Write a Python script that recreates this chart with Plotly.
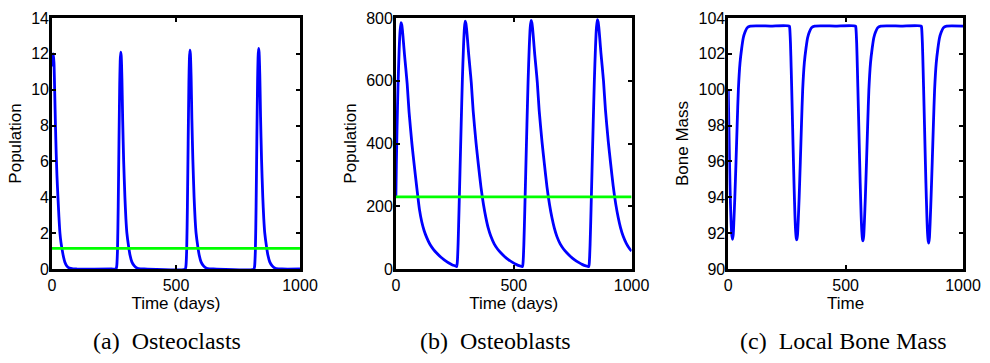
import plotly.graph_objects as go

# ---------------- data ----------------
time_range = [0, 1000]

# Osteoclasts
t_oc = [0, 2, 5, 8, 11, 14, 17, 20, 24, 28, 32, 36, 40, 46, 52, 60, 70, 85, 100,
        240, 258, 261, 264, 267, 270, 273, 275, 277, 279, 282, 285, 289, 294, 298, 302, 309, 315, 322, 332, 342, 357, 372,
        537, 540, 543, 546, 549, 552, 554, 556, 558, 561, 564, 568, 573, 577, 581, 588, 594, 601, 611, 621, 636, 651,
        814, 817, 820, 823, 826, 829, 831, 833, 835, 838, 841, 845, 850, 854, 858, 865, 871, 878, 888, 898, 913, 928, 1000]
oc = [11.3, 11.9, 12.0, 11.5, 9.8, 8.0, 6.4, 5.2, 4.0, 2.9, 2.0, 1.5, 1.15, 0.7, 0.38, 0.16, 0.05, 0.01, 0,
      0, 0, 0.15, 1.0, 3.5, 7.0, 10.3, 11.6, 12.1, 11.9, 10.6, 8.3, 6.0, 4.0, 2.8, 2.0, 1.25, 0.75, 0.4, 0.17, 0.06, 0.01, 0,
      0, 0.15, 1.0, 3.5, 7.0, 10.4, 11.7, 12.2, 12.0, 10.7, 8.4, 6.1, 4.0, 2.8, 2.0, 1.25, 0.75, 0.4, 0.17, 0.06, 0.01, 0,
      0, 0.15, 1.0, 3.5, 7.1, 10.5, 11.8, 12.3, 12.1, 10.8, 8.5, 6.1, 4.0, 2.8, 2.0, 1.25, 0.75, 0.4, 0.17, 0.06, 0.01, 0, 0]
oc_equilibrium = 1.15

# Osteoblasts
t_ob = [0, 2, 5, 9, 14, 18, 22, 25, 28, 32, 37, 42, 48, 56, 68, 78, 89, 100, 110, 120, 131, 145, 160, 174, 190, 205, 223, 240, 252,
        258, 261, 264, 268, 272, 277, 282, 287, 291,
        294, 297, 300, 304, 309, 314, 320, 328, 340, 350, 361, 372, 382, 392, 403, 417, 432, 446, 462, 477, 495, 512, 526,
        537, 540, 543, 547, 551, 556, 561, 566, 570,
        574, 577, 580, 584, 589, 594, 600, 608, 620, 630, 641, 652, 662, 672, 683, 697, 712, 726, 742, 757, 775, 792, 806,
        818, 821, 824, 828, 832, 837, 842, 847, 851,
        855, 858, 861, 865, 870, 875, 881, 889, 901, 911, 922, 933, 943, 953, 964, 978, 993, 1000]
ob = [230, 330, 450, 580, 700, 760, 785, 778, 760, 725, 680, 640, 590, 500, 400, 330, 258, 190, 150, 122, 100, 78, 62, 50, 38, 29, 20, 13, 10,
      8, 25, 80, 190, 310, 460, 600, 710, 770,
      790, 783, 765, 730, 683, 643, 593, 503, 403, 333, 261, 204, 163, 130, 104, 80, 63, 51, 39, 30, 21, 14, 10,
      8, 25, 80, 190, 310, 460, 600, 710, 770,
      792, 785, 767, 732, 685, 645, 595, 505, 405, 335, 262, 205, 164, 131, 104, 80, 63, 51, 39, 30, 21, 14, 10,
      8, 25, 80, 190, 310, 460, 600, 710, 770,
      795, 788, 770, 735, 688, 648, 598, 508, 407, 337, 264, 206, 165, 132, 105, 81, 63, 57]
ob_equilibrium = 230

# Local bone mass
t_bm = [0, 3, 6, 9, 12, 15, 18, 21, 24, 28, 33, 38, 43, 50, 57, 64, 71, 80, 94, 180,
        260, 262, 265, 268, 272, 276, 280, 284, 287, 290, 292, 295, 298, 302, 307, 312, 317, 324, 331, 338, 345, 354, 368, 455,
        542, 544, 547, 550, 554, 558, 562, 566, 569, 572, 574, 577, 580, 584, 589, 594, 599, 606, 613, 620, 627, 636, 650, 735,
        822, 824, 827, 830, 834, 838, 842, 846, 849, 852, 854, 857, 860, 864, 869, 874, 879, 886, 893, 900, 907, 916, 930, 1000]
bm = [100.0, 97.7, 95.5, 93.8, 92.6, 91.9, 91.66, 91.9, 92.7, 94.0, 96.0, 98.1, 100.0, 101.5, 102.3, 102.9, 103.2, 103.45, 103.55, 103.55,
      103.55, 103.4, 102.6, 101.2, 99.1, 96.9, 94.8, 93.0, 92.1, 91.7, 91.62, 91.9, 92.7, 94.0, 96.0, 98.1, 100.0, 101.5, 102.3, 102.9, 103.2, 103.45, 103.55, 103.55,
      103.55, 103.4, 102.6, 101.2, 99.1, 96.9, 94.8, 93.0, 92.1, 91.65, 91.57, 91.85, 92.65, 94.0, 96.0, 98.1, 100.0, 101.5, 102.3, 102.9, 103.2, 103.45, 103.55, 103.55,
      103.55, 103.4, 102.6, 101.2, 99.1, 96.9, 94.8, 93.0, 92.0, 91.55, 91.45, 91.75, 92.6, 94.0, 96.0, 98.1, 100.0, 101.5, 102.3, 102.9, 103.2, 103.45, 103.55, 103.55]

x_ticks = [0, 500, 1000]
y_ticks_a = [0, 2, 4, 6, 8, 10, 12, 14]
y_ticks_b = [0, 200, 400, 600, 800]
y_ticks_c = [90, 92, 94, 96, 98, 100, 102, 104]

captions = ["(a)\u00a0\u00a0Osteoclasts", "(b)\u00a0\u00a0Osteoblasts", "(c)\u00a0\u00a0Local Bone Mass"]
x_titles = ["Time (days)", "Time (days)", "Time"]
y_titles = ["Population", "Population", "Bone Mass"]

# ---------------- figure ----------------
W, H = 990, 363
BLUE = "#0000FF"
GREEN = "#00FF00"
SANS = "Liberation Sans, Arial, Helvetica, sans-serif"
SERIF = "Liberation Serif, Times New Roman, serif"

fig = go.Figure()
line_blue = dict(color=BLUE, width=2.8, shape="spline", smoothing=0.6)
line_green = dict(color=GREEN, width=2.6)

fig.add_trace(go.Scatter(x=t_oc, y=oc, mode="lines", line=line_blue, xaxis="x", yaxis="y", showlegend=False))
fig.add_trace(go.Scatter(x=time_range, y=[oc_equilibrium] * 2, mode="lines", line=line_green, xaxis="x", yaxis="y", showlegend=False))
fig.add_trace(go.Scatter(x=t_ob, y=ob, mode="lines", line=line_blue, xaxis="x2", yaxis="y2", showlegend=False))
fig.add_trace(go.Scatter(x=time_range, y=[ob_equilibrium] * 2, mode="lines", line=line_green, xaxis="x2", yaxis="y2", showlegend=False))
fig.add_trace(go.Scatter(x=t_bm, y=bm, mode="lines", line=line_blue, xaxis="x3", yaxis="y3", showlegend=False))

# plot-area pixel geometry (margins hold all tick labels and titles)
ML, MR, MT, MB = 52, 24, 9.5, 94
inner_w = W - ML - MR
panel_px = [[52, 300.8], [397, 633.5], [730.5, 966]]
xdoms = [[(a - ML) / inner_w, (b - ML) / inner_w] for a, b in panel_px]

common = dict(showline=True, linecolor="black", linewidth=2.6, mirror="allticks",
              ticks="inside", ticklen=4, tickwidth=1.5, tickcolor="black",
              showgrid=False, zeroline=False,
              tickfont=dict(family=SANS, size=16, color="black"))

yranges = [[0, 14], [0, 800], [90, 104]]
yticks = [y_ticks_a, y_ticks_b, y_ticks_c]

for i in range(3):
    sx = "" if i == 0 else str(i + 1)
    fig.update_layout(**{
        f"xaxis{sx}": dict(common, domain=xdoms[i], range=time_range, tickvals=x_ticks,
                           anchor=f"y{sx}",
                           title=dict(text=x_titles[i], font=dict(family=SANS, size=17, color="black"), standoff=2)),
        f"yaxis{sx}": dict(common, domain=[0, 1], range=yranges[i], tickvals=yticks[i],
                           anchor=f"x{sx}", ticklabelstandoff=-3,
                           title=dict(text=y_titles[i], font=dict(family=SANS, size=17, color="black"), standoff=6)),
    })

cap_x = [167, 497, 846]
for i in range(3):
    fig.add_annotation(text=captions[i], xref="paper", yref="paper",
                       x=(cap_x[i] - ML) / inner_w, y=-(343 - (H - MB)) / (H - MT - MB),
                       xanchor="center", yanchor="middle",
                       showarrow=False, font=dict(family=SERIF, size=24, color="black"))

fig.update_layout(width=W, height=H, autosize=False,
                  margin=dict(l=ML, r=MR, t=MT, b=MB, pad=0),
                  paper_bgcolor="white", plot_bgcolor="white")

fig.write_html("out.html", config={"displayModeBar": False},
               post_script="document.body.style.margin='0px';document.body.style.padding='0px';"
                           "document.body.style.overflow='hidden';")
